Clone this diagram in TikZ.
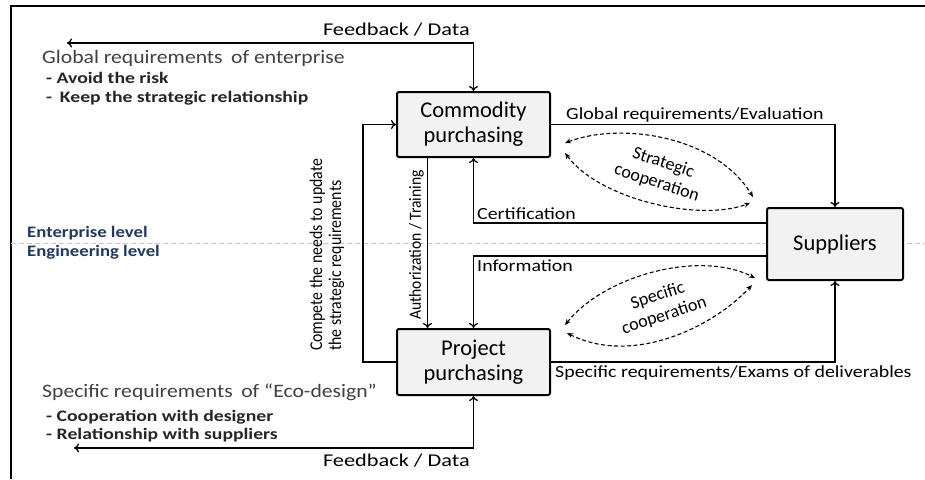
\documentclass[tikz,border=0pt]{standalone}
\usepackage{fontspec}
\setmainfont{Carlito}
\usetikzlibrary{arrows.meta}
\definecolor{boxgray}{RGB}{242,242,242}
\definecolor{levelblue}{RGB}{31,56,100}

\begin{document}
\begin{tikzpicture}[x=1pt,y=-1pt,
    purchbox/.style={draw,line width=2pt,fill=boxgray,rounded corners=2pt,align=center,
      inner sep=0pt,font=\fontsize{22.5}{25}\selectfont},
    flow/.style={line width=1.3pt,-{To[length=5pt,width=9pt]}},
    bothflow/.style={line width=1.3pt,{To[length=5pt,width=9pt]}-{To[length=5pt,width=9pt]}},
    coop/.style={line width=1.1pt,dash pattern=on 4pt off 2.5pt,{Stealth[length=6pt,width=5pt]}-{Stealth[length=6pt,width=5pt]}},
    edgelabel/.style={font=\fontsize{17}{19}\selectfont,inner sep=0pt,xscale=1.17},
    fblabel/.style={font=\fontsize{18}{20}\selectfont,inner sep=0pt,xscale=1.24,anchor=base east},
    sidelabel/.style={inner sep=0pt,align=left},
    cooplabel/.style={inner sep=0pt,align=center,font=\fontsize{18}{21}\selectfont},
    reqhead/.style={font=\fontsize{19}{21}\selectfont,text=black!75,inner sep=0pt,anchor=base west,xscale=1.14},
    reqitem/.style={font=\bfseries\fontsize{16}{18}\selectfont,text=black!85,inner sep=0pt,anchor=base west,xscale=1.23},
    levellabel/.style={font=\bfseries\fontsize{16}{18}\selectfont,text=levelblue,inner sep=0pt,anchor=base west,xscale=1.17}]

  % background and frame
  \useasboundingbox [fill=white] (0,0) rectangle (925,479);
  \draw [line width=2pt] (11,479) -- (11,6) -- (925,6);

  % enterprise / engineering border
  \draw [gray!45,line width=0.8pt,dash pattern=on 5pt off 3pt] (11,243) -- (925,243);
  \node [levellabel] (entlevel) at (27,237) {Enterprise level};
  \node [levellabel] (englevel) at (27,256) {Engineering level};

  % the three actors
  \node [purchbox,minimum width=153pt,minimum height=65pt] (commodity) at (473.5,124.5) {Commodity\\purchasing};
  \node [purchbox,minimum width=153pt,minimum height=66pt] (project) at (473.5,362) {Project\\purchasing};
  \node [purchbox,minimum width=136pt,minimum height=72pt] (suppliers) at (835,244) {Suppliers};

  % requirements texts
  \node [reqhead] (globreq) at (42,63) {Global requirements\, of enterprise};
  \node [reqitem] (globa) at (46,83) {- Avoid the risk};
  \node [reqitem] (globb) at (46,102) {-\, Keep the strategic relationship};
  \node [reqhead] (specreq) at (42,397) {Specific requirements\, of “Eco-design”};
  \node [reqitem] (speca) at (46,421) {- Cooperation with designer};
  \node [reqitem] (specb) at (46,439) {- Relationship with suppliers};

  % feedback loops
  \coordinate (fbtop) at (67,43);
  \coordinate (fbbot) at (74,448);
  \draw [bothflow] (fbtop) -| (commodity.north);
  \draw [bothflow] (fbbot) -| (project.south);
  \node [fblabel] (fbtoplab) at (470,35) {Feedback / Data};
  \node [fblabel] (fbbotlab) at (470,466) {Feedback / Data};

  % commodity <-> suppliers
  \draw [flow] (commodity.east) -| (suppliers.north);
  \node [edgelabel,anchor=base west] (globeval) at (566,119) {Global requirements/Evaluation};
  \draw [flow] ([yshift=21pt]suppliers.west) -| (commodity.south);
  \node [edgelabel,anchor=base west] (certif) at (477,219) {Certification};

  % project <-> suppliers
  \draw [flow] ([yshift=-12pt]suppliers.west) -| (project.north);
  \node [edgelabel,anchor=base west] (inform) at (477,271) {Information};
  \draw [flow] (project.east) -| (suppliers.south);
  \node [edgelabel,anchor=base west] (specexam) at (555,377) {Specific requirements/Exams of deliverables};

  % commodity <-> project
  \draw [flow] ([xshift=-46pt]commodity.south) -- ([xshift=-46pt]project.north);
  \node [sidelabel,rotate=90,xscale=0.92,font=\fontsize{17}{19}\selectfont] (authtrain) at (416.5,245) {Authorization / Training};
  \draw [flow] (project.west) -- ++(-33,0) |- (commodity.west);
  \node [sidelabel,rotate=90,xscale=0.88,anchor=west,font=\fontsize{18}{19}\selectfont] (compete) at (327,351)
    {Compete the needs to update\\the strategic requirements};

  % cooperation
  \draw [coop] (565,143) .. controls (620,122) and (715,135) .. (753,197);
  \draw [coop] (565,153) .. controls (600,200) and (700,222) .. (750,203);
  \node [cooplabel,rotate=-18] (stratcoop) at (660,173) {Strategic\\cooperation};
  \draw [coop] (565,325) .. controls (605,275) and (700,250) .. (755,278);
  \draw [coop] (567,333) .. controls (630,365) and (710,330) .. (752,285);
  \node [cooplabel,rotate=18] (speccoop) at (661,306) {Specific\\cooperation};

\end{tikzpicture}
\end{document}
